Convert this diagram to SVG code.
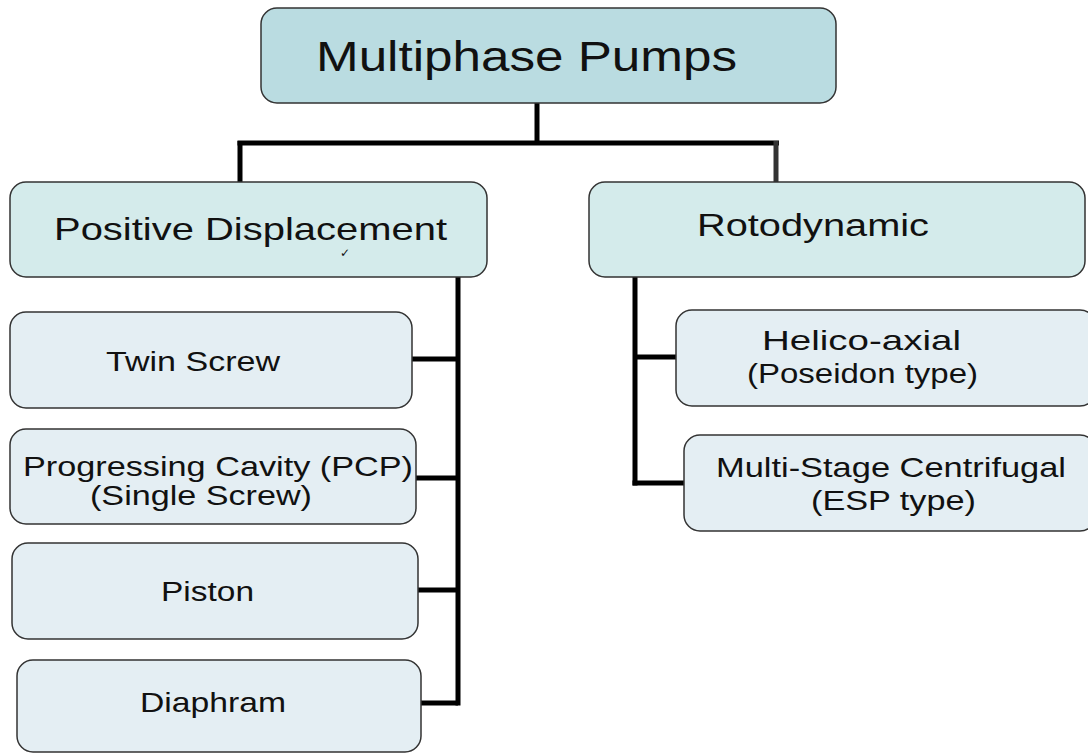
<svg xmlns="http://www.w3.org/2000/svg" width="1088" height="753" viewBox="0 0 1088 753">
  <style>
    .box { stroke: #333; stroke-width: 1.5; }
    .root { fill: #badce1; }
    .cat { fill: #d4ebeb; }
    .leaf { fill: #e4eef3; }
    .lbl { font-family: "Liberation Sans", Arial, sans-serif; fill: #111; }
    .wire { fill: none; stroke: #000; stroke-width: 5; stroke-linecap: butt; stroke-linejoin: miter; }
  </style>
  <rect width="1088" height="753" fill="#fff"/>

  <!-- connectors -->
  <g id="connectors">
    <path class="wire" d="M537 103 V143"/>
    <path class="wire" d="M237.5 143 H779"/>
    <path class="wire" d="M240 141 V182"/>
    <path class="wire" d="M776 141 V182" style="stroke:#333"/>
    <path class="wire" d="M458 276 V705.5"/>
    <path class="wire" d="M412 359 H458"/>
    <path class="wire" d="M416 478 H458"/>
    <path class="wire" d="M418 590 H456"/>
    <path class="wire" d="M421 703 H458"/>
    <path class="wire" d="M635 276 V485.5"/>
    <path class="wire" d="M635 357 H676"/>
    <path class="wire" d="M632.5 483 H684"/>
  </g>

  <g id="multiphase-pumps">
    <rect class="box root" x="261" y="8" width="575" height="95" rx="16"/>
    <text class="lbl" x="316" y="71" font-size="43" textLength="421" lengthAdjust="spacingAndGlyphs">Multiphase Pumps</text>
  </g>

  <g id="positive-displacement">
    <rect class="box cat" x="10" y="182" width="477" height="95" rx="16"/>
    <text class="lbl" x="54" y="240" font-size="32" textLength="393" lengthAdjust="spacingAndGlyphs">Positive Displacement</text>
    <text x="345" y="257" font-family="DejaVu Sans, sans-serif" font-size="12" text-anchor="middle" fill="#111">✓</text>
  </g>

  <g id="rotodynamic">
    <rect class="box cat" x="589" y="182" width="496" height="95" rx="16"/>
    <text class="lbl" x="697" y="236" font-size="31" textLength="232" lengthAdjust="spacingAndGlyphs">Rotodynamic</text>
  </g>

  <g id="twin-screw">
    <rect class="box leaf" x="10" y="312" width="402" height="96" rx="16"/>
    <text class="lbl" x="106" y="371" font-size="27.5" textLength="174" lengthAdjust="spacingAndGlyphs">Twin Screw</text>
  </g>

  <g id="progressing-cavity">
    <rect class="box leaf" x="10" y="429" width="406" height="95" rx="16"/>
    <text class="lbl" x="23" y="476" font-size="27.5" textLength="390" lengthAdjust="spacingAndGlyphs">Progressing Cavity (PCP)</text>
    <text class="lbl" x="90" y="505" font-size="27.5" textLength="222" lengthAdjust="spacingAndGlyphs">(Single Screw)</text>
  </g>

  <g id="piston">
    <rect class="box leaf" x="12" y="543" width="406" height="96" rx="16"/>
    <text class="lbl" x="161" y="601" font-size="27.5" textLength="93" lengthAdjust="spacingAndGlyphs">Piston</text>
  </g>

  <g id="diaphram">
    <rect class="box leaf" x="17" y="660" width="404" height="92" rx="16"/>
    <text class="lbl" x="140" y="712" font-size="27.5" textLength="146" lengthAdjust="spacingAndGlyphs">Diaphram</text>
  </g>

  <g id="helico-axial">
    <rect class="box leaf" x="676" y="310" width="420" height="96" rx="16"/>
    <text class="lbl" x="762" y="350" font-size="27.5" textLength="199" lengthAdjust="spacingAndGlyphs">Helico-axial</text>
    <text class="lbl" x="747" y="383" font-size="27.5" textLength="231" lengthAdjust="spacingAndGlyphs">(Poseidon type)</text>
  </g>

  <g id="multi-stage-centrifugal">
    <rect class="box leaf" x="684" y="435" width="412" height="96" rx="16"/>
    <text class="lbl" x="716" y="477" font-size="27.5" textLength="350" lengthAdjust="spacingAndGlyphs">Multi-Stage Centrifugal</text>
    <text class="lbl" x="811" y="510" font-size="27.5" textLength="165" lengthAdjust="spacingAndGlyphs">(ESP type)</text>
  </g>
</svg>
